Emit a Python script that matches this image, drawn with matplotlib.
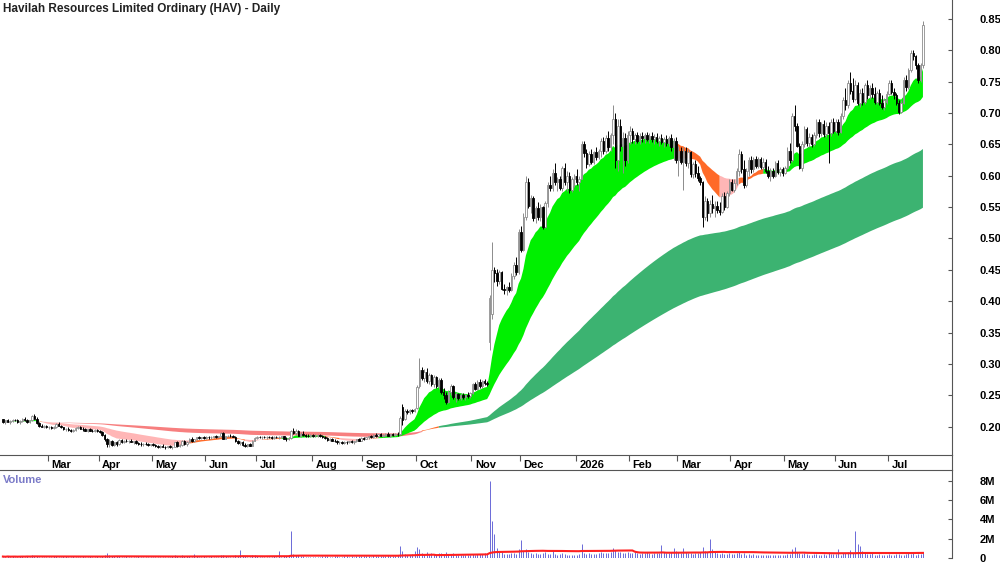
import numpy as np
import pandas as pd
import matplotlib
matplotlib.use("Agg")
import matplotlib.pyplot as plt
from matplotlib.transforms import blended_transform_factory
from matplotlib.lines import Line2D

plt.rcParams['font.family'] = ['Liberation Sans', 'DejaVu Sans']

TITLE = "Havilah Resources Limited Ordinary (HAV) - Daily"
START = "2025-02-04"

# ---- daily OHLC (A$) ----
opens = [
 # Feb 2025
 .212,.208,.210,.207,.209,.211,.210,.207,.209,.213,.210,.208,.210,.217,.213,.206,.202,.200,.201,
 # Mar
 .199,.200,.198,.199,.205,.202,.199,.196,.197,.195,.193,.195,.198,.199,.197,.196,.194,.196,.194,.193,.195,
 # Apr
 .193,.192,.187,.180,.172,.178,.171,.175,.172,.179,.176,.178,.177,.178,.176,.177,.174,.173,.172,.173,.172,.171,
 # May
 .172,.171,.169,.168,.170,.168,.167,.169,.167,.168,.175,.169,.171,.178,.172,.176,.181,.178,.180,.183,.182,.183,
 # Jun
 .182,.184,.183,.184,.185,.184,.185,.190,.181,.185,.186,.185,.184,.177,.174,.176,.171,.169,.172,.170,.178,
 # Jul
 .182,.184,.183,.184,.183,.184,.183,.182,.184,.183,.184,.185,.181,.180,.182,.193,.190,.194,.186,.189,.187,.186,.185,
 # Aug
 .187,.185,.186,.187,.185,.184,.182,.179,.180,.178,.177,.175,.176,.174,.176,.175,.177,.175,.177,.180,.178,
 # Sep
 .182,.181,.183,.185,.183,.187,.186,.188,.186,.187,.189,.186,.188,.187,.189,.188,.232,.212,.225,.224,.226,.225,
 # Oct
 .230,.265,.290,.278,.288,.273,.282,.268,.279,.265,.275,.255,.250,.240,.255,.265,.248,.252,.246,.250,.247,.251,.249,
 # Nov
 .254,.268,.260,.272,.265,.273,.270,.335,.380,.450,.445,.432,.446,.420,.418,.422,.418,.440,.458,.446,
 # Dec
 .510,.482,.535,.590,.552,.565,.532,.548,.535,.550,.518,.556,.585,.580,.605,.590,.595,.580,.612,.590,.600,.578,.595,
 # Jan 2026
 .600,.590,.595,.650,.636,.618,.635,.622,.638,.630,.640,.655,.640,.660,.645,.665,.690,.625,.680,.648,.660,.625,
 # Feb
 .665,.672,.658,.665,.656,.664,.660,.665,.658,.664,.658,.662,.655,.660,.654,.658,.652,.660,.645,.655,
 # Mar
 .625,.640,.622,.640,.620,.638,.602,.618,.605,.596,.590,.535,.560,.540,.555,.548,.552,.545,.542,.568,.550,.572,
 # Apr
 .590,.578,.588,.608,.635,.610,.585,.608,.625,.610,.626,.615,.626,.614,.622,.608,.600,.608,.600,.620,.606,
 # May
 .610,.605,.612,.640,.625,.695,.680,.648,.612,.650,.675,.652,.662,.650,.665,.685,.668,.682,.666,.680,.668,
 # Jun
 .686,.672,.685,.670,.695,.720,.712,.748,.735,.722,.745,.716,.732,.718,.744,.728,.740,.730,.718,.732,.716,.710,
 # Jul
 .718,.730,.748,.734,.728,.716,.702,.716,.752,.742,.768,.796,.790,.776,.752,.776,
]
highs = [
 .213,.211,.212,.210,.212,.213,.212,.210,.214,.215,.212,.211,.219,.221,.215,.207,.204,.203,.203,
 .202,.202,.201,.206,.207,.203,.200,.198,.199,.197,.196,.199,.201,.201,.199,.198,.197,.198,.196,.196,.197,
 .195,.193,.188,.182,.180,.179,.176,.177,.180,.181,.179,.180,.179,.180,.178,.179,.176,.175,.174,.175,.174,.173,
 .174,.173,.171,.171,.172,.170,.170,.171,.169,.176,.177,.172,.179,.179,.177,.182,.183,.181,.184,.185,.184,.185,
 .185,.186,.185,.186,.187,.186,.191,.192,.186,.187,.188,.187,.185,.179,.177,.177,.174,.173,.174,.179,.183,
 .185,.186,.185,.186,.185,.186,.185,.185,.186,.185,.186,.186,.183,.183,.195,.198,.196,.195,.191,.193,.189,.188,.188,
 .189,.188,.188,.189,.187,.186,.184,.182,.182,.180,.179,.178,.178,.177,.178,.178,.179,.178,.181,.182,.183,
 .184,.184,.186,.187,.188,.190,.189,.190,.189,.190,.191,.189,.190,.190,.192,.217,.236,.228,.229,.228,.229,.230,
 .266,.310,.296,.292,.293,.285,.284,.282,.281,.278,.277,.262,.256,.258,.268,.267,.255,.254,.253,.254,.252,.255,.256,
 .270,.272,.275,.276,.275,.276,.273,.410,.495,.455,.452,.450,.448,.428,.424,.430,.445,.462,.470,.515,
 .520,.540,.600,.596,.570,.568,.552,.558,.555,.552,.560,.590,.600,.610,.620,.598,.600,.616,.620,.608,.606,.598,.602,
 .610,.600,.655,.655,.642,.640,.642,.640,.645,.642,.660,.662,.665,.672,.668,.712,.700,.690,.690,.670,.668,.672,
 .680,.676,.668,.670,.668,.670,.668,.669,.668,.669,.666,.668,.664,.666,.662,.665,.664,.666,.660,.662,
 .648,.645,.645,.646,.642,.640,.622,.625,.615,.600,.592,.568,.565,.562,.570,.560,.560,.558,.572,.574,.575,.594,
 .595,.594,.612,.642,.640,.625,.612,.630,.632,.630,.632,.630,.630,.628,.626,.615,.612,.612,.624,.625,.614,
 .614,.616,.645,.652,.700,.712,.684,.652,.655,.680,.678,.668,.666,.670,.690,.690,.686,.688,.685,.686,.690,
 .692,.690,.690,.700,.725,.740,.752,.765,.755,.752,.750,.738,.740,.748,.752,.745,.748,.742,.735,.738,.728,.724,
 .735,.752,.752,.740,.732,.720,.720,.758,.760,.772,.800,.800,.792,.780,.780,.846,
]
lows = [
 .206,.205,.207,.205,.207,.209,.206,.205,.208,.209,.206,.206,.209,.212,.205,.200,.199,.198,.198,
 .197,.197,.196,.198,.201,.198,.195,.193,.194,.191,.191,.194,.196,.196,.194,.193,.192,.193,.191,.191,.192,
 .190,.186,.178,.168,.167,.170,.169,.170,.171,.174,.174,.175,.174,.175,.173,.172,.171,.170,.170,.171,.169,.169,
 .170,.168,.166,.166,.167,.165,.166,.166,.164,.167,.168,.167,.170,.171,.170,.175,.176,.176,.179,.180,.180,.181,
 .181,.181,.181,.182,.182,.182,.184,.180,.180,.183,.184,.183,.176,.172,.171,.170,.167,.168,.169,.169,.177,
 .180,.182,.181,.182,.181,.182,.181,.181,.182,.181,.182,.180,.178,.179,.181,.188,.187,.185,.184,.186,.184,.183,.184,
 .184,.183,.184,.184,.182,.181,.178,.177,.177,.175,.173,.173,.172,.172,.173,.174,.174,.173,.176,.177,.177,
 .179,.180,.181,.182,.182,.184,.184,.185,.184,.185,.185,.184,.185,.185,.186,.187,.203,.210,.221,.221,.222,.223,
 .229,.262,.275,.272,.270,.268,.265,.264,.262,.260,.252,.245,.236,.238,.250,.245,.240,.243,.242,.244,.243,.246,.246,
 .252,.258,.258,.262,.262,.266,.265,.322,.372,.430,.425,.428,.418,.412,.410,.415,.416,.436,.442,.444,
 .478,.480,.530,.548,.540,.528,.524,.530,.528,.515,.516,.550,.575,.576,.585,.575,.578,.576,.585,.575,.572,.574,.582,
 .585,.575,.594,.630,.612,.615,.618,.618,.625,.626,.630,.635,.636,.640,.640,.650,.612,.608,.640,.605,.615,.620,
 .650,.652,.650,.652,.650,.654,.652,.655,.652,.654,.650,.652,.648,.650,.646,.648,.648,.640,.625,.620,
 .600,.618,.578,.615,.612,.598,.596,.598,.592,.585,.518,.530,.528,.535,.540,.535,.540,.538,.540,.545,.548,.568,
 .575,.574,.585,.600,.605,.580,.582,.600,.605,.606,.612,.612,.610,.608,.605,.596,.592,.596,.598,.602,.600,
 .600,.602,.610,.620,.622,.672,.645,.610,.608,.645,.648,.646,.645,.648,.660,.662,.664,.662,.662,.620,.664,
 .668,.668,.665,.668,.690,.705,.708,.730,.718,.720,.712,.710,.712,.715,.722,.722,.724,.715,.714,.712,.706,.705,
 .714,.728,.730,.722,.712,.698,.700,.714,.735,.738,.765,.785,.770,.748,.750,.772,
]
closes = [
 .208,.210,.207,.209,.211,.210,.207,.209,.213,.210,.208,.210,.217,.213,.206,.202,.200,.201,.199,
 .200,.198,.199,.205,.202,.199,.196,.197,.195,.193,.195,.198,.199,.197,.196,.194,.196,.194,.193,.195,.193,
 .192,.187,.180,.172,.178,.171,.175,.172,.179,.176,.178,.177,.178,.176,.177,.174,.173,.172,.173,.172,.171,.172,
 .171,.169,.168,.170,.168,.167,.169,.167,.168,.175,.169,.171,.178,.172,.176,.181,.178,.180,.183,.182,.183,.182,
 .184,.183,.184,.185,.184,.185,.190,.181,.185,.186,.185,.184,.177,.174,.176,.171,.169,.172,.170,.178,.182,
 .184,.183,.184,.183,.184,.183,.182,.184,.183,.184,.185,.181,.180,.182,.193,.190,.194,.186,.189,.187,.186,.185,.187,
 .185,.186,.187,.185,.184,.182,.179,.180,.178,.177,.175,.176,.174,.176,.175,.177,.175,.177,.180,.178,.182,
 .181,.183,.185,.183,.187,.186,.188,.186,.187,.189,.186,.188,.187,.189,.188,.214,.210,.225,.224,.226,.225,.228,
 .263,.290,.278,.288,.273,.282,.268,.279,.265,.275,.255,.250,.240,.255,.265,.248,.252,.246,.250,.247,.251,.249,.254,
 .268,.260,.272,.265,.273,.270,.268,.405,.450,.445,.432,.446,.420,.418,.422,.418,.440,.458,.446,.510,
 .482,.535,.590,.552,.565,.532,.548,.535,.550,.518,.556,.585,.580,.605,.590,.595,.580,.612,.590,.600,.578,.595,.600,
 .590,.595,.650,.636,.618,.635,.622,.638,.630,.640,.655,.640,.660,.645,.665,.690,.625,.680,.648,.660,.625,.665,
 .672,.658,.665,.656,.664,.660,.665,.658,.664,.658,.662,.655,.660,.654,.658,.652,.660,.645,.655,.625,
 .640,.622,.640,.620,.638,.602,.618,.605,.596,.590,.535,.560,.540,.555,.548,.552,.545,.542,.568,.550,.572,.590,
 .578,.588,.608,.635,.610,.585,.608,.625,.610,.626,.615,.626,.614,.622,.608,.600,.608,.600,.620,.606,.610,
 .605,.612,.640,.625,.695,.680,.648,.612,.650,.675,.652,.662,.650,.665,.685,.668,.682,.666,.680,.668,.686,
 .672,.685,.670,.695,.720,.712,.748,.735,.722,.745,.716,.732,.718,.744,.728,.740,.730,.718,.732,.716,.710,.720,
 .730,.748,.734,.728,.716,.702,.716,.752,.742,.768,.796,.790,.776,.752,.776,.840,
]
# ---- daily volume (millions of shares) ----
volume_m = [
 .15,.12,.20,.10,.18,.14,.09,.22,.16,.12,.25,.11,.30,.18,.20,.13,.10,.15,.12,
 .14,.10,.18,.22,.12,.09,.16,.20,.11,.13,.17,.08,.15,.12,.19,.10,.14,.21,.11,.13,.16,
 .15,.22,.35,.50,.30,.20,.18,.25,.22,.14,.12,.18,.10,.15,.13,.11,.16,.09,.12,.14,.10,.13,
 .12,.09,.15,.11,.14,.08,.13,.10,.16,.28,.18,.14,.30,.20,.16,.25,.15,.40,.22,.14,.12,.18,
 .14,.11,.16,.12,.10,.15,.35,.30,.16,.12,.10,.14,.28,.20,.80,.22,.25,.15,.12,.30,.28,
 .18,.12,.10,.15,.11,.09,.13,.16,.10,.70,.14,.20,.18,.16,2.80,.45,.35,.30,.22,.18,.15,.12,.14,
 .12,.15,.10,.13,.18,.16,.22,.14,.12,.19,.25,.15,.13,.20,.16,.11,.18,.14,.22,.17,.25,
 .20,.18,.25,.15,.30,.22,.18,.24,.16,.20,.28,.19,.23,.17,.26,1.20,.75,.40,.35,.30,.45,.70,
 1.10,.90,.55,.45,.60,.38,.50,.42,.35,.48,.55,.40,.62,.38,.45,.50,.32,.30,.28,.35,.26,.30,.33,
 .40,.35,.45,.38,.42,.50,.45,8.00,3.80,2.50,1.00,.70,.60,.45,.40,.38,.55,.50,.45,.90,
 1.90,.70,.90,.60,.50,.45,.55,.42,.40,.50,.60,.45,.42,.80,.40,.36,.45,.50,.42,.36,.32,.30,.36,
 .34,.40,1.50,.52,.45,.48,.40,.45,.38,.52,.60,.48,.55,.52,.62,1.00,.80,.66,.60,.55,.50,.62,
 .52,.48,.60,.55,.45,.52,.48,.60,.52,.45,.55,.48,.52,1.40,.60,.55,.52,.62,1.00,.70,
 .62,.52,1.00,.60,.48,.55,.45,.52,.48,.60,1.10,.75,.62,2.00,.90,.60,.52,.45,.55,.40,.45,.52,
 .40,.45,.52,.60,.40,.48,.36,.45,.33,.40,.36,.33,.30,.36,.33,.26,.30,.33,.28,.30,.30,
 .30,.33,.45,.40,.90,1.10,.60,.48,.45,.52,.40,.36,.33,.40,.45,.36,.33,.40,.36,.60,.45,
 .40,.45,.90,.36,.48,.52,.60,.80,.52,2.80,1.50,1.20,.70,.52,.45,.40,.48,.36,.33,.40,.36,.33,
 .36,.40,.33,.36,.45,.40,.33,.36,.40,.55,.45,.48,.36,.40,.45,.60,
]

short_periods = [12, 16, 21, 28, 36, 45]
long_periods = [135, 155, 175, 200, 225, 250]
volume_ma_days = 60
price_ticks = [0.20, 0.25, 0.30, 0.35, 0.40, 0.45, 0.50, 0.55, 0.60, 0.65, 0.70, 0.75, 0.80, 0.85]
vol_ticks_m = [0, 2, 4, 6, 8]
vol_tick_labels = ["0", "2M", "4M", "6M", "8M"]

n = len(closes)
df = pd.DataFrame({"o": opens, "h": highs, "l": lows, "c": closes, "v": np.array(volume_m) * 1e6},
                  index=pd.bdate_range(START, periods=n))
x = np.arange(n)

def band(periods):
    emas = np.vstack([df["c"].ewm(span=p, adjust=False).mean().values for p in periods])
    lo = emas.min(axis=0)
    hi = emas.max(axis=0)
    d = np.diff(emas, axis=0)
    bull = np.all(d < 0, axis=0)
    bear = np.all(d > 0, axis=0)
    state = np.where(bull, 1, np.where(bear, -1, 0))
    return lo, hi, state

def draw_band(ax, lo, hi, state, cmap):
    for s, col in cmap.items():
        m = state == s
        m2 = m.copy()
        m2[1:] |= m[:-1]
        ax.fill_between(x, lo, hi, where=m2, color=col, lw=0, interpolate=False, zorder=2)

fig = plt.figure(figsize=(10, 5.62), dpi=100)
W, H = 1000, 562
axp = fig.add_axes([0, (H - 455) / H, 952 / W, 455 / H])
axv = fig.add_axes([0, (H - 558) / H, 952 / W, 88 / H])

lo_l, hi_l, st_l = band(long_periods)
lo_s, hi_s, st_s = band(short_periods)
draw_band(axp, lo_l, hi_l, st_l, {1: "#3cb371", -1: "#f77f7f", 0: "#ff6a28"})
draw_band(axp, lo_s, hi_s, st_s, {1: "#00f000", -1: "#ffb6b6", 0: "#ff6a28"})

o, h, l, c = df["o"].values, df["h"].values, df["l"].values, df["c"].values
up = c >= o
wcol = np.where(up, "#8c8c8c", "#000000")
axp.vlines(x, l, h, colors=wcol, lw=0.7, zorder=3)
bw = 0.62
bot = np.minimum(o, c)
ht = np.maximum(np.abs(c - o), 0.0008)
axp.bar(x[up], ht[up], bottom=bot[up], width=bw, color="white", edgecolor="#8c8c8c", lw=0.6, zorder=4)
axp.bar(x[~up], ht[~up], bottom=bot[~up], width=bw, color="black", edgecolor="black", lw=0.6, zorder=4)

axp.set_xlim(-1.2, n - 1 + 12.0)
axp.set_ylim(0.155, 0.88)
axp.yaxis.tick_right()
axp.set_yticks(price_ticks)
axp.set_yticklabels([f"{t:.2f}" for t in price_ticks], fontsize=8, fontweight="bold")
axp.tick_params(axis="y", direction="in", length=3, pad=20, color="#555555")
for lab in axp.get_yticklabels():
    lab.set_horizontalalignment("left")
for s in ["top", "left"]:
    axp.spines[s].set_visible(False)
axp.spines["right"].set_color("#555555")
axp.spines["bottom"].set_color("#555555")

dates = df.index
starts = [i for i in range(1, n) if dates[i].month != dates[i - 1].month]
axp.set_xticks([i - 0.5 for i in starts])
axp.set_xticklabels([])
axp.tick_params(axis="x", direction="out", length=4, color="#555555")
tr = blended_transform_factory(axp.transData, axp.transAxes)
for i in starts:
    d = dates[i]
    lab = str(d.year) if d.month == 1 else d.strftime("%b")
    axp.text(i + 1.0, -0.012, lab, transform=tr, ha="left", va="top", fontsize=8, fontweight="bold")

axp.text(3 / 952, 1 - 9 / 455, TITLE, transform=axp.transAxes, ha="left", va="center",
         fontsize=8.5, fontweight="bold", color="#222222")

fig.add_artist(Line2D([952 / W, 952 / W], [(H - 470) / H, (H - 455) / H],
                      transform=fig.transFigure, color="#555555", lw=0.8))

axv.vlines(x, 0, df["v"].values, colors="#6a6ad8", lw=0.7, zorder=2)
vma = df["v"].rolling(volume_ma_days, min_periods=1).mean()
axv.plot(x, vma.values, color="#ff2020", lw=1.5, zorder=3)
axv.set_xlim(axp.get_xlim())
axv.set_ylim(0, 9.14e6)
axv.yaxis.tick_right()
axv.set_yticks([t * 1e6 for t in vol_ticks_m])
axv.set_yticklabels(vol_tick_labels, fontsize=8, fontweight="bold")
axv.tick_params(axis="y", direction="in", length=3, pad=20, color="#555555")
for lab in axv.get_yticklabels():
    lab.set_horizontalalignment("left")
axv.set_xticks([])
for s in ["left", "bottom"]:
    axv.spines[s].set_visible(False)
axv.spines["right"].set_color("#555555")
axv.spines["top"].set_color("#555555")
axv.text(3 / 952, 1 - 10 / 88, "Volume", transform=axv.transAxes, ha="left", va="center",
         fontsize=8, fontweight="bold", color="#7b7bc8")

fig.savefig("out.png", dpi=100)
